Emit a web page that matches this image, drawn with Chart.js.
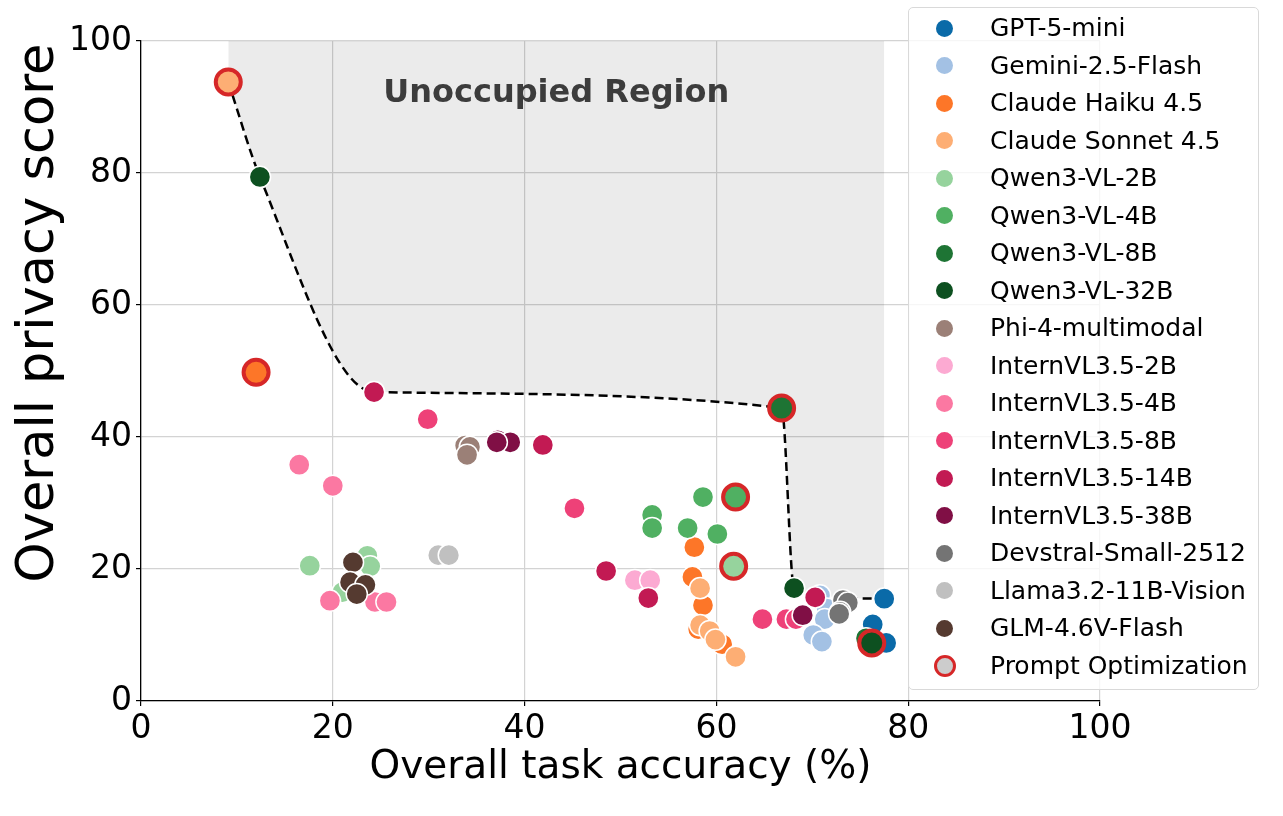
<!DOCTYPE html>
<html>
<head>
<meta charset="utf-8">
<script src="https://cdn.jsdelivr.net/npm/chart.js@4.4.1/dist/chart.umd.min.js"></script>
<style>
  body { margin: 0; background: #fff; }
  #wrap { position: relative; width: 1283px; height: 816px; }
  #legend {
    position: absolute; left: 908px; top: 7px; width: 349px; height: 681px;
    border: 1px solid #d9d9d9; border-radius: 5px; background: rgba(255,255,255,0.8);
    font-family: "DejaVu Sans", sans-serif; font-size: 25px; color: #000;
  }
  .row { position: absolute; left: 0; height: 40px; line-height: 40px; white-space: nowrap; }
  .dot { position: absolute; left: 27px; top: 11.5px; width: 17px; height: 17px; border-radius: 50%; box-sizing: border-box; }
  .lbl { position: absolute; left: 81px; top: 0; }
</style>
</head>
<body>
<div id="wrap">
  <canvas id="chart" width="1283" height="816"></canvas>
  <div id="legend"></div>
</div>
<script>
// Models and their colours (legend order)
const models = ["GPT-5-mini", "Gemini-2.5-Flash", "Claude Haiku 4.5", "Claude Sonnet 4.5",
  "Qwen3-VL-2B", "Qwen3-VL-4B", "Qwen3-VL-8B", "Qwen3-VL-32B", "Phi-4-multimodal",
  "InternVL3.5-2B", "InternVL3.5-4B", "InternVL3.5-8B", "InternVL3.5-14B", "InternVL3.5-38B",
  "Devstral-Small-2512", "Llama3.2-11B-Vision", "GLM-4.6V-Flash"];
const colors = ["#0a6aa8", "#a3c1e4", "#fd7628", "#fdae74",
  "#96d39d", "#50b062", "#1e7434", "#0d5020", "#9b8077",
  "#fcaad2", "#fb78a2", "#ee4178", "#c21a53", "#800f45",
  "#747474", "#c0c0c0", "#553a30"];

// [accuracy, privacy, promptOptimized]
const gpt5mini     = [[77.5, 15.5, 0], [76.3, 11.6, 0], [77.7, 8.8, 0]];
const gemini25     = [[70.8, 16.0, 0], [71.5, 14.0, 0], [71.3, 12.4, 0], [70.1, 10.0, 0], [71.0, 9.0, 0]];
const claudeHaiku  = [[12.0, 49.8, 1], [57.7, 23.3, 0], [57.5, 18.8, 0], [58.6, 14.5, 0], [58.1, 10.9, 0], [60.6, 8.6, 0]];
const claudeSonnet = [[9.1, 93.8, 1], [58.3, 17.1, 0], [58.3, 11.5, 0], [59.3, 10.6, 0], [59.9, 9.3, 0], [62.0, 6.7, 0]];
const qwen2b       = [[17.6, 20.5, 0], [23.6, 22.0, 0], [23.9, 20.4, 0], [21.0, 16.5, 0], [61.8, 20.4, 1]];
const qwen4b       = [[53.3, 28.2, 0], [53.3, 26.2, 0], [58.6, 30.9, 0], [57.0, 26.2, 0], [60.1, 25.3, 0], [62.0, 30.9, 1]];
const qwen8b       = [[75.6, 9.5, 0], [66.8, 44.4, 1]];
const qwen32b      = [[12.4, 79.4, 0], [68.1, 17.1, 0], [76.2, 8.8, 1]];
const phi4         = [[33.8, 38.7, 0], [34.3, 38.5, 0], [34.0, 37.3, 0]];
const intern2b     = [[51.5, 18.3, 0], [53.1, 18.3, 0]];
const intern4b     = [[16.5, 35.8, 0], [20.0, 32.6, 0], [19.7, 15.2, 0], [24.4, 15.0, 0], [25.6, 15.0, 0]];
const intern8b     = [[29.9, 42.7, 0], [45.2, 29.2, 0], [64.8, 12.4, 0], [67.3, 12.4, 0], [68.3, 12.4, 0]];
const intern14b    = [[24.3, 46.8, 0], [41.9, 38.8, 0], [48.5, 19.7, 0], [52.9, 15.6, 0], [70.3, 15.7, 0]];
const intern38b    = [[37.2, 39.5, 0], [38.5, 39.2, 0], [37.1, 39.2, 0], [69.0, 13.0, 0]];
const devstral     = [[73.2, 15.3, 0], [73.7, 14.9, 0], [72.9, 13.5, 0], [72.8, 13.2, 0]];
const llama32      = [[31.0, 22.1, 0], [32.1, 22.1, 0]];
const glm46        = [[22.1, 21.0, 0], [21.8, 18.0, 0], [23.4, 17.6, 0], [22.5, 16.2, 0]];
const allPoints = [gpt5mini, gemini25, claudeHaiku, claudeSonnet, qwen2b, qwen4b, qwen8b, qwen32b, phi4,
  intern2b, intern4b, intern8b, intern14b, intern38b, devstral, llama32, glm46];

// Pareto frontier
const frontierX = [9.1, 12.4, 24.3, 66.8, 68.1, 77.5];
const frontierY = [93.8, 79.4, 46.8, 44.4, 17.1, 15.5];

const axisTicks = [0, 20, 40, 60, 80, 100];

const FONT = "'DejaVu Sans', sans-serif";
const n = models.length;

// one dataset per model (plain points), later ones on top
const datasets = models.map((name, i) => ({
  label: name,
  data: allPoints[i].filter(p => !p[2]).map(p => ({ x: p[0], y: p[1] })),
  backgroundColor: colors[i],
  borderColor: "#ffffff",
  borderWidth: 1.5,
  pointRadius: 10.6,
  order: n + 2 - i
}));

// prompt optimization points drawn on top, with red ring
const poData = [], poColors = [];
allPoints.forEach((pts, i) => pts.filter(p => p[2]).forEach(p => {
  poData.push({ x: p[0], y: p[1] });
  poColors.push(colors[i]);
}));
datasets.push({
  label: "Prompt Optimization",
  data: poData,
  backgroundColor: poColors,
  borderColor: "#d62728",
  borderWidth: 4,
  pointRadius: 12.5,
  order: 0
});

datasets.push({
  type: "line",
  label: "frontier",
  data: frontierX.map((x, i) => ({ x: x, y: frontierY[i] })),
  borderColor: "#000",
  borderWidth: 2.5,
  borderDash: [9, 5],
  backgroundColor: "rgba(0,0,0,0.078)",
  fill: "end",
  cubicInterpolationMode: "monotone",
  pointRadius: 0,
  order: n + 10
});

// region label + y axis title (sits a bit above the axis centre in the original)
const textLayer = {
  id: "textLayer",
  afterDatasetsDraw(chart) {
    const c = chart.ctx;
    c.save();
    c.font = "bold 32px " + FONT;
    c.fillStyle = "#3c3c3c";
    c.textAlign = "center";
    c.textBaseline = "middle";
    c.fillText("Unoccupied Region", chart.scales.x.getPixelForValue(43.3), chart.scales.y.getPixelForValue(92.0));
    c.restore();
  },
  afterDraw(chart) {
    const c = chart.ctx;
    c.save();
    c.translate(40, 313);
    c.rotate(-Math.PI / 2);
    c.font = "51px " + FONT;
    c.fillStyle = "#000";
    c.textAlign = "center";
    c.textBaseline = "middle";
    c.fillText("Overall privacy score", 0, 0);
    c.restore();
  }
};

function axis(isX) {
  return {
    type: "linear",
    min: 0, max: 100,
    afterBuildTicks: s => { s.ticks = axisTicks.map(v => ({ value: v })); },
    afterFit: s => { if (isX) s.height = 115; else s.width = 141; },
    ticks: { font: { family: FONT, size: 33 }, color: "#000", padding: 4 },
    grid: { color: "#d3d3d3", lineWidth: 1.2, tickColor: "#000", tickLength: 5 },
    border: { color: "#000", width: 1.3 },
    title: isX
      ? { display: true, text: "Overall task accuracy (%)", color: "#000", font: { family: FONT, size: 39 }, padding: { top: 0, bottom: 25 } }
      : { display: false }
  };
}

new Chart(document.getElementById("chart"), {
  type: "scatter",
  data: { datasets: datasets },
  options: {
    responsive: false,
    animation: false,
    events: [],
    devicePixelRatio: 1,
    layout: { padding: { left: 0, right: 183, top: 41, bottom: 0 } },
    plugins: { legend: { display: false }, tooltip: { enabled: false } },
    scales: { x: axis(true), y: axis(false) }
  },
  plugins: [textLayer]
});

// legend
const legend = document.getElementById("legend");
const legendNames = models.concat(["Prompt Optimization"]);
legendNames.forEach((name, i) => {
  const row = document.createElement("div");
  row.className = "row";
  row.style.top = (28 + i * 37.5 - 8 - 20) + "px";
  const dot = document.createElement("span");
  dot.className = "dot";
  if (i < n) {
    dot.style.background = colors[i];
  } else {
    dot.style.background = "#cccccc";
    dot.style.border = "3.5px solid #d62728";
    dot.style.width = "22px"; dot.style.height = "22px";
    dot.style.left = "24.5px"; dot.style.top = "9px";
  }
  const lbl = document.createElement("span");
  lbl.className = "lbl";
  lbl.textContent = name;
  row.appendChild(dot);
  row.appendChild(lbl);
  legend.appendChild(row);
});
</script>
</body>
</html>
